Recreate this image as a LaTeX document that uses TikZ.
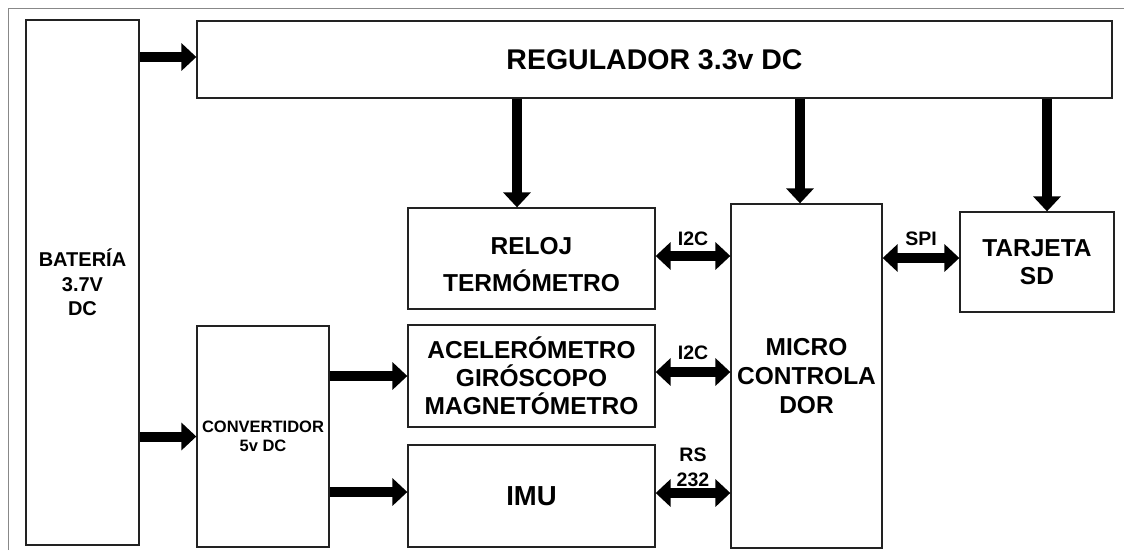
\documentclass[tikz,border=0pt]{standalone}
\usepackage{fontspec}
\setmainfont{Liberation Sans}
\usetikzlibrary{arrows.meta}
\definecolor{boxc}{HTML}{222222}
\definecolor{framec}{HTML}{888888}
\tikzset{
  blk/.style={draw=boxc, line width=1.3pt, inner sep=0pt, align=center, fill=white},
  fs/.style 2 args={font={\bfseries\fontsize{#1}{#2}\selectfont}},
  lbl/.style={inner sep=0pt, align=center, font={\bfseries\fontsize{19.5}{25}\selectfont}},
  fat/.style={line width=10pt, -{Triangle[length=15pt,width=27pt]}},
  fat2/.style={line width=10pt, {Triangle[length=15pt,width=27pt]}-{Triangle[length=15pt,width=27pt]}},
}
\begin{document}
\begin{tikzpicture}[x=1pt,y=-1pt]
\useasboundingbox (0,0) rectangle (1124,550);
\fill[white] (0,0) rectangle (1124,550);
\draw[framec, line width=1.5pt] (8.5,550) -- (8.5,8.5) -- (1124,8.5);

\node[blk, fs={20}{24.5}, minimum width=113, minimum height=525] (bat) at (82.5,282.5) {BATERÍA\\3.7V\\DC};
\node[blk, fs={28.5}{32}, minimum width=915, minimum height=77] (reg) at (654.5,59.5) {REGULADOR 3.3v DC};
\node[blk, fs={24.5}{37}, minimum width=247, minimum height=101] (rel) at (531.5,258.5) {\rule{0pt}{29pt}RELOJ\\TERMÓMETRO};
\node[blk, fs={24.5}{28}, minimum width=247, minimum height=102] (acel) at (531.5,376) {ACELERÓMETRO\\GIRÓSCOPO\\MAGNETÓMETRO};
\node[blk, fs={27.5}{30}, minimum width=247, minimum height=102] (imu) at (531.5,496) {IMU};
\node[blk, fs={16.5}{19}, minimum width=132, minimum height=221] (conv) at (263,436.5) {CONVERTIDOR\\5v DC};
\node[blk, fs={24.5}{29}, minimum width=151, minimum height=344] (mic) at (806.5,376) {MICRO\\CONTROLA\\DOR};
\node[blk, fs={24.5}{28}, minimum width=154, minimum height=100] (sd) at (1037,262) {TARJETA\\SD};

% power arrows
\coordinate (regin) at ([yshift=2.5pt]reg.west);
\draw[fat] (bat.east |- regin) -- (regin);
\draw[fat] (bat.east |- conv.west) -- (conv.west);
\draw[fat] (conv.east |- acel.west) -- (acel.west);
\coordinate (imuin) at ([yshift=4pt]imu.west);
\draw[fat] (conv.east |- imuin) -- (imuin);

\coordinate (d1) at ([xshift=-14.5pt]rel.north);
\coordinate (d2) at ([xshift=-6.5pt]mic.north);
\coordinate (d3) at ([xshift=10pt]sd.north);
\draw[fat] (reg.south -| d1) -- (d1);
\draw[fat] (reg.south -| d2) -- (d2);
\draw[fat] (reg.south -| d3) -- (d3);

% bus arrows
\coordinate (b1) at ([yshift=2.5pt]rel.east);
\draw[fat2] (b1) -- (mic.west |- b1);
\coordinate (b2) at ([yshift=4pt]acel.east);
\draw[fat2] (b2) -- (mic.west |- b2);
\coordinate (b3) at ([yshift=3pt]imu.east);
\draw[fat2] (b3) -- (mic.west |- b3);
\coordinate (b4) at ([yshift=4pt]sd.west);
\draw[fat2] (mic.east |- b4) -- (b4);

\node[lbl] (l1) at (693,239) {I2C};
\node[lbl] (l2) at (693,353) {I2C};
\node[lbl] (l3) at (693,467) {RS\\232};
\node[lbl] (l4) at (921,239) {SPI};
\end{tikzpicture}
\end{document}
